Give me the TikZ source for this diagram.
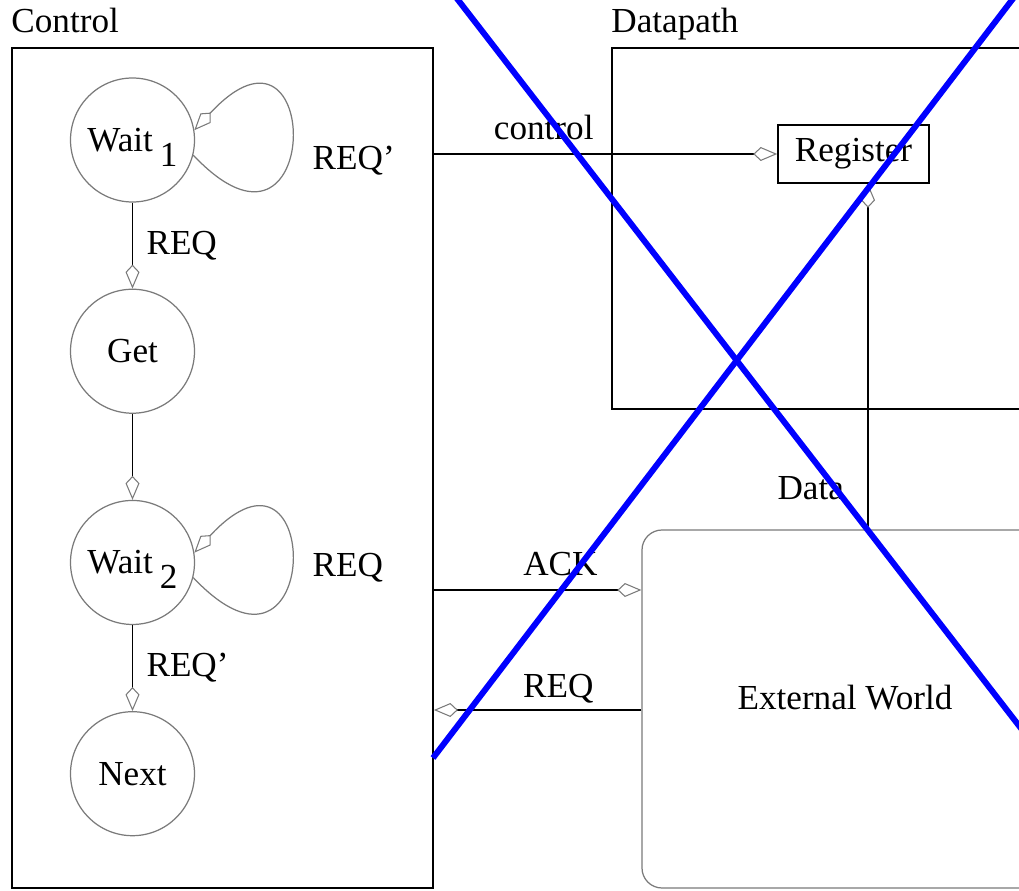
\documentclass[tikz,border=0pt]{standalone}
\usepackage{fontspec}
\setmainfont{Liberation Serif}
\usetikzlibrary{positioning,arrows.meta}
\definecolor{stateGray}{HTML}{7A7A7A}
\definecolor{crossBlue}{HTML}{0000FF}
\tikzset{
  lbl/.style={font=\fontsize{20}{24}\selectfont},
  opentip/.style={-{Kite[open, length=4.8mm, width=2.8mm, inset=1.5mm, line width=0.6pt, color=stateGray]}},
}
% lowered index after a state name
\newcommand{\stsub}[1]{\hspace{0.2em}\raisebox{-0.42em}[0pt][0pt]{#1}}

\begin{document}
\begin{tikzpicture}[
  fsm/.style={circle, draw=stateGray, line width=0.7pt, minimum size=2.48cm, inner sep=0pt},
  frame/.style={draw, line width=1pt},
  wire/.style={line width=0.8pt, opentip},
  selfloop/.style={draw=stateGray, line width=0.7pt, opentip},
  cross/.style={crossBlue, line width=3.4pt}, lbl]
  \useasboundingbox (0,0) rectangle (20.38,17.8);
  \clip (0,0) rectangle (20.38,17.8);
  % control unit
  \node[frame, minimum width=8.42cm, minimum height=16.8cm] (ctl) at (4.45,8.44) {};
  \node[anchor=base west, inner sep=0, yshift=3mm] (ctltitle) at (ctl.north west) {Control};
  \node[fsm] (w1) at (2.65,15) {Wait\stsub{1}};
  \node[fsm, below=1.72cm of w1] (get) {Get};
  \node[fsm, below=1.72cm of get] (w2) {Wait\stsub{2}};
  \node[fsm, below=1.72cm of w2] (nxt) {Next};
  \draw[selfloop] (w1.-14) .. controls +(2.6,-2.75) and +(2.6,2.8) .. (w1.9);
  \draw[selfloop] (w2.-14) .. controls +(2.6,-2.75) and +(2.6,2.8) .. (w2.9);
  \node[anchor=west] (lq1) at (6.13,14.58) {REQ'};
  \node[anchor=west] (lq2) at (6.13,6.44) {REQ};
  \draw[wire] (w1) -- (get) node[midway, right=1.5mm] (e1) {REQ};
  \draw[wire] (get) -- (w2);
  \draw[wire] (w2) -- (nxt) node[midway, right=1.5mm] (e3) {REQ'};
  % datapath and outside world
  \node[frame, minimum width=9.76cm, minimum height=7.22cm] (dp) at (17.12,13.23) {};
  \node[anchor=base west, inner sep=0, yshift=3mm] (dptitle) at (dp.north west) {Datapath};
  \node[draw, line width=0.9pt, minimum width=3.02cm, minimum height=1.16cm] (reg) at (17.07,14.72) {Register};
  \node[draw=stateGray, line width=0.7pt, rounded corners=4mm, minimum width=8.12cm,
        minimum height=7.16cm, text height=3mm, text depth=3mm] (world) at (16.9,3.62) {External World};
  % signals
  \coordinate (ackrow) at (0,6);
  \coordinate (reqrow) at (0,3.6);
  \coordinate (datacol) at (17.36,0);
  \draw[wire] (ctl.east |- reg) -- (reg) node[pos=0.32, above=1.5mm] (sc) {control};
  \draw[wire] (ctl.east |- ackrow) -- (world.west |- ackrow) node[pos=0.61, above=1.5mm] (sa) {ACK};
  \draw[wire] (world.west |- reqrow) -- (ctl.east |- reqrow) node[pos=0.4, above] (sr) {REQ};
  \draw[wire] (world.north -| datacol) -- (reg.south -| datacol) node[pos=0.12, left=3.5mm] (sd) {Data};
  % crossed out
  \draw[cross] (9.1,17.88) -- (20.6,3.0);
  \draw[cross] (20.3,17.88) -- (8.66,2.64);
\end{tikzpicture}
\end{document}
